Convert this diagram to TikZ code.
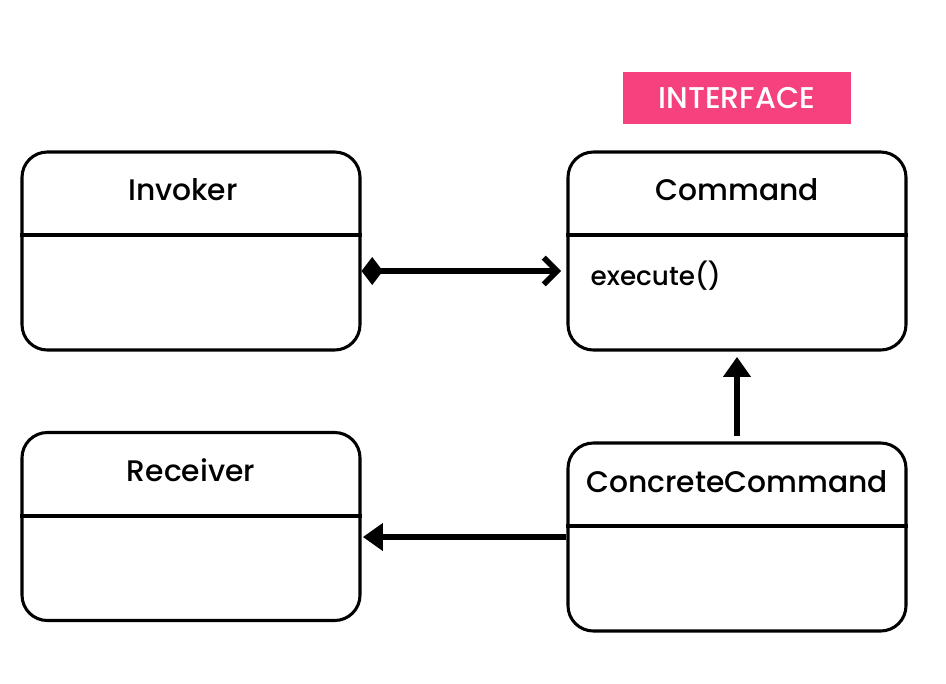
\documentclass[tikz,border=0pt]{standalone}
\usepackage{fontspec}
\setmainfont{Poppins Medium}
\usepackage{xcolor}
\usetikzlibrary{arrows.meta,calc}
\definecolor{tagpink}{HTML}{F6417F}

\begin{document}
\begin{tikzpicture}[x=0.75pt,y=-0.75pt,
    classbox/.style={draw, line width=2.3pt, rounded corners=19pt, minimum width=253.5pt},
    title/.style={font=\fontsize{22.3}{26}\selectfont},
    link/.style={line width=4.3pt}]
    \useasboundingbox (0,0) rectangle (946,683);
    % interface tag
    \node [fill=tagpink, text=white, minimum width=171pt, minimum height=39pt,
           font=\fontsize{22.5}{26}\selectfont] (tag) at (737,98) {INTERFACE};
    % classes
    \node [classbox, minimum height=148.5pt] (invoker) at (191,251) {};
    \node [classbox, minimum height=148.5pt] (command) at (737,251) {};
    \node [classbox, minimum height=141pt] (receiver) at (191,526.5) {};
    \node [classbox, minimum height=141pt] (concrete) at (737,537) {};
    \draw [line width=2.3pt] (invoker.west |- 0,235) -- (invoker.east |- 0,235);
    \draw [line width=2.3pt] (command.west |- 0,235) -- (command.east |- 0,235);
    \draw [line width=2.3pt] (receiver.west |- 0,516) -- (receiver.east |- 0,516);
    \draw [line width=2.3pt] (concrete.west |- 0,526) -- (concrete.east |- 0,526);
    \node [title] (invtitle) at (183,190) {Invoker};
    \node [title] (cmdtitle) at (737,190) {Command};
    \node [title] (rectitle) at (191,470) {Receiver};
    \node [title] (cctitle) at (737,482) {ConcreteCommand};
    \node [font=\fontsize{19.7}{23}\selectfont, anchor=west] (execute) at (586,276) {execute()};
    % relations
    \draw [link, {Diamond[length=16pt,width=21pt]}-{Straight Barb[length=10pt,width=20pt]}]
        ([yshift=-15pt]invoker.east) -- ([xshift=-4pt,yshift=-15pt]command.west);
    \draw [link, -{Triangle[length=15pt,width=20pt]}, shorten <=4pt, shorten >=4pt]
        (concrete.north) -- (command.south);
    \draw [link, -{Triangle[length=15pt,width=20pt]}, shorten >=1pt]
        (concrete.west) -- (concrete.west -| receiver.east);
\end{tikzpicture}
\end{document}
